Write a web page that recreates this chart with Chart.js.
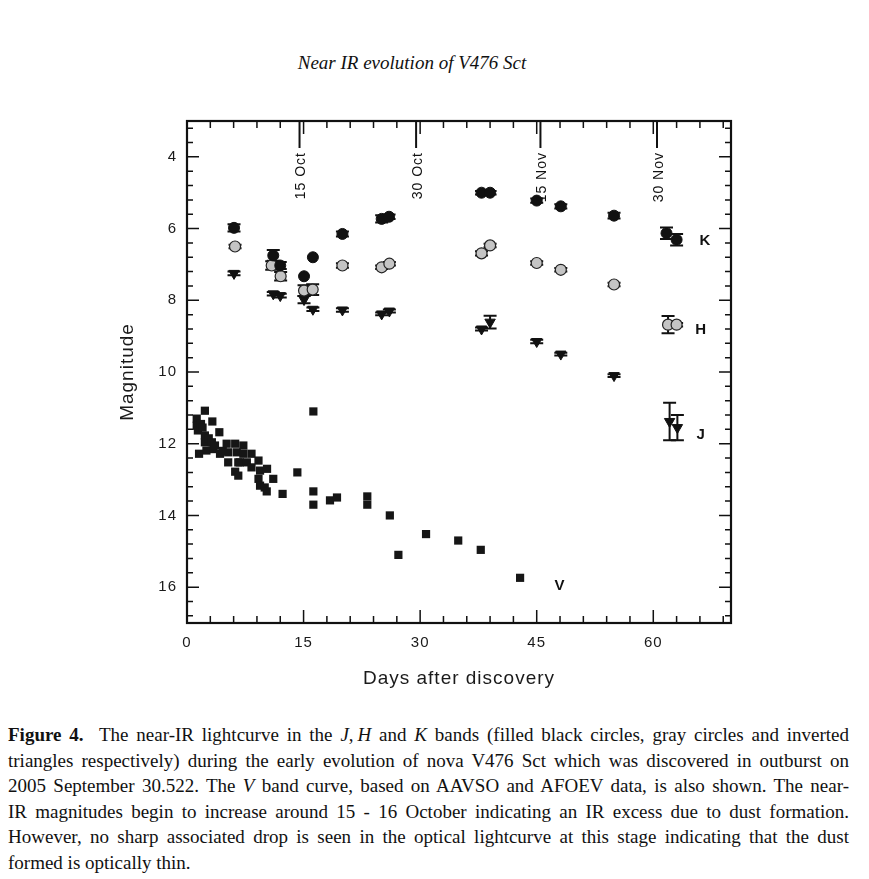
<!DOCTYPE html>
<html>
<head>
<meta charset="utf-8">
<script src="https://cdn.jsdelivr.net/npm/chart.js@4.4.1/dist/chart.umd.min.js"></script>
<style>
html,body{margin:0;padding:0;background:#fff;}
#wrap{position:relative;width:869px;height:879px;overflow:hidden;}
#chart{position:absolute;left:0;top:0;}
#title{position:absolute;top:52px;left:0;width:824px;text-align:center;font:italic 19px "Liberation Serif";color:#111;}
#caption{position:absolute;left:8px;top:722px;width:841px;font:19px/25.6px "Liberation Serif";color:#111;}
#caption div{text-align:justify;text-align-last:justify;}
#caption div.last{text-align-last:left;}
</style>
</head>
<body>
<div id="wrap">
<div id="title">Near IR evolution of V476 Sct</div>
<canvas id="chart" width="869" height="700"></canvas>
<div id="caption">
<div><b>Figure 4.</b>&nbsp; The near-IR lightcurve in the <i>J</i>,&#8201;<i>H</i> and <i>K</i> bands (filled black circles, gray circles and inverted</div>
<div>triangles respectively) during the early evolution of nova V476 Sct which was discovered in outburst on</div>
<div>2005 September 30.522. The <i>V</i> band curve, based on AAVSO and AFOEV data, is also shown. The near-</div>
<div>IR magnitudes begin to increase around 15 - 16 October indicating an IR excess due to dust formation.</div>
<div>However, no sharp associated drop is seen in the optical lightcurve at this stage indicating that the dust</div>
<div class="last">formed is optically thin.</div>
</div>
</div>
<script>
// ---- data ----
const kDays = [6.05, 11.1, 12.0, 15.06, 16.2, 20.0, 25.05, 26.0, 37.9, 39.0, 45.0, 48.1, 54.95, 61.7, 63.0];
const kMag  = [5.98, 6.75, 7.03, 7.33, 6.8, 6.15, 5.73, 5.67, 5.0, 5.0, 5.22, 5.38, 5.64, 6.13, 6.31];
const kErr  = [0.1, 0.15, 0.1, 0, 0, 0.07, 0.1, 0.06, 0.05, 0.05, 0.06, 0.06, 0.08, 0.16, 0.16];

const hDays = [6.18, 10.9, 12.05, 15.06, 16.17, 20.0, 25.05, 26.04, 37.9, 39.0, 45.0, 48.1, 54.95, 61.9, 63.0];
const hMag  = [6.5, 7.03, 7.33, 7.73, 7.7, 7.03, 7.08, 6.98, 6.69, 6.47, 6.96, 7.15, 7.56, 8.68, 8.68];
const hErr  = [0.05, 0.12, 0.12, 0.15, 0.15, 0.06, 0.05, 0.05, 0.06, 0.05, 0.05, 0.05, 0.05, 0.24, 0.05];

const jDays = [6.05, 11.1, 12.0, 15.06, 16.2, 20.0, 25.05, 26.04, 37.9, 39.0, 45.0, 48.1, 54.95, 62.1, 63.1];
const jMag  = [7.25, 7.82, 7.87, 7.98, 8.25, 8.27, 8.38, 8.3, 8.8, 8.61, 9.15, 9.5, 10.1, 11.38, 11.55];
const jErr  = [0.05, 0.05, 0.05, 0.1, 0.05, 0.05, 0.04, 0.04, 0.04, 0.18, 0.05, 0.04, 0.04, 0.52, 0.35];

const vDays = [1.25, 1.25, 1.4, 1.55, 1.8, 2.0, 2.3, 2.3, 2.3, 2.5, 2.8, 3.2, 3.26, 3.4, 3.6, 4.16, 4.25, 4.6,
               5.1, 5.3, 5.3, 6.2, 6.4, 6.6, 6.2, 6.6, 6.8, 7.25, 7.25, 7.7, 8.3, 8.3, 9.2, 9.4, 10.3,
               9.2, 9.4, 10.0, 10.26, 11.1, 12.3, 14.2, 16.26, 16.26, 16.26, 18.4, 19.3, 23.2, 23.2,
               26.1, 27.2, 30.76, 34.9, 37.8, 42.86];
const vMag  = [11.3, 11.5, 11.63, 12.28, 11.45, 11.55, 11.08, 11.77, 11.96, 12.19, 11.85, 11.96, 11.38, 12.15, 12.05, 11.68, 12.28, 12.2,
               12.0, 12.24, 12.52, 12.0, 12.24, 12.52, 12.78, 12.89, 12.52, 12.05, 12.28, 12.52, 12.28, 12.66, 12.47, 12.75, 12.7,
               12.98, 13.17, 13.22, 13.33, 12.98, 13.4, 12.8, 11.1, 13.33, 13.7, 13.58, 13.5, 13.47, 13.7,
               14.0, 15.1, 14.52, 14.7, 14.96, 15.74];

const xTickVals = [0, 15, 30, 45, 60];
const yTickVals = [4, 6, 8, 10, 12, 14, 16];
const dateLabels = ['15 Oct', '30 Oct', '15 Nov', '30 Nov'];
const dateDays = [14.48, 29.48, 45.48, 60.48];
const bandNames = ['K', 'H', 'J', 'V'];
const bandDays = [66.7, 66.15, 66.15, 48.0];
const bandMags = [6.34, 8.83, 11.75, 15.97];

const toPts = (xs, ys) => xs.map((x, i) => ({x: x, y: ys[i]}));

// ---- plugin: frame, inward ticks, date markers, error bars, band labels ----
const decor = {
  id: 'decor',
  beforeDraw(chart) { chart.ctx.letterSpacing = '1px'; },
  beforeDatasetsDraw(chart) {
    const ctx = chart.ctx, xs = chart.scales.x, ys = chart.scales.y;
    ctx.save();
    ctx.strokeStyle = '#111';
    ctx.lineWidth = 2;
    chart.data.datasets.forEach(ds => {
      if (!ds.errs) return;
      ds.data.forEach((p, i) => {
        const e = ds.errs[i];
        if (!e) return;
        const px = xs.getPixelForValue(p.x);
        const y1 = ys.getPixelForValue(p.y - e), y2 = ys.getPixelForValue(p.y + e);
        ctx.beginPath();
        ctx.moveTo(px, y1); ctx.lineTo(px, y2);
        ctx.moveTo(px - 6.5, y1); ctx.lineTo(px + 6.5, y1);
        ctx.moveTo(px - 6.5, y2); ctx.lineTo(px + 6.5, y2);
        ctx.stroke();
      });
    });
    ctx.restore();
  },
  afterDraw(chart) {
    const ctx = chart.ctx, xs = chart.scales.x, ys = chart.scales.y, a = chart.chartArea;
    ctx.save();
    ctx.strokeStyle = '#111';
    ctx.fillStyle = '#111';
    // frame
    ctx.lineWidth = 2.2;
    ctx.strokeRect(a.left, a.top, a.right - a.left, a.bottom - a.top);
    // x ticks (bottom & top)
    ctx.lineWidth = 1.5;
    ctx.beginPath();
    for (let v = 3; v < 70; v += 3) {
      const major = v % 15 === 0;
      const len = major ? 13 : 7;
      const px = xs.getPixelForValue(v);
      ctx.moveTo(px, a.bottom); ctx.lineTo(px, a.bottom - len);
      ctx.moveTo(px, a.top); ctx.lineTo(px, a.top + len);
    }
    ctx.stroke();
    // y ticks (left & right)
    ctx.beginPath();
    for (let n = -2; n <= 32; n++) {
      const v = 4 + n * 0.4;
      const major = n % 5 === 0;
      const len = major ? 12 : 6;
      const py = ys.getPixelForValue(v);
      ctx.lineWidth = major ? 2.2 : 1.5;
      ctx.moveTo(a.left, py); ctx.lineTo(a.left + len, py);
      ctx.moveTo(a.right, py); ctx.lineTo(a.right - len, py);
    }
    ctx.stroke();
    // date markers
    ctx.lineWidth = 2;
    ctx.font = '14px "Liberation Sans", Arial, sans-serif';
    dateDays.forEach((d, i) => {
      const px = xs.getPixelForValue(d);
      ctx.beginPath();
      ctx.moveTo(px, a.top); ctx.lineTo(px, a.top + 27);
      ctx.stroke();
      ctx.save();
      ctx.translate(px + 2, a.top + 31);
      ctx.rotate(-Math.PI / 2);
      ctx.textAlign = 'right';
      ctx.textBaseline = 'middle';
      ctx.fillText(dateLabels[i], 0, 0);
      ctx.restore();
    });
    // band labels
    ctx.font = 'bold 15px "Liberation Sans", Arial, sans-serif';
    ctx.textAlign = 'center';
    ctx.textBaseline = 'middle';
    bandNames.forEach((b, i) => {
      ctx.fillText(b, xs.getPixelForValue(bandDays[i]), ys.getPixelForValue(bandMags[i]));
    });
    ctx.restore();
  }
};

new Chart(document.getElementById('chart'), {
  type: 'scatter',
  data: {
    datasets: [
      {label: 'V', data: toPts(vDays, vMag), pointStyle: 'rect', pointRadius: 5.8, backgroundColor: '#161616', borderColor: '#161616', borderWidth: 0},
      {label: 'K', data: toPts(kDays, kMag), errs: kErr, pointStyle: 'circle', pointRadius: 5.5, backgroundColor: '#111', borderColor: '#111', borderWidth: 1},
      {label: 'H', data: toPts(hDays, hMag), errs: hErr, pointStyle: 'circle', pointRadius: 5.5, backgroundColor: '#c4c4c4', borderColor: '#222', borderWidth: 1.2},
      {label: 'J', data: toPts(jDays, jMag), errs: jErr, pointStyle: 'triangle', rotation: 180, pointRadius: 6, backgroundColor: '#111', borderColor: '#111', borderWidth: 1}
    ]
  },
  options: {
    responsive: false,
    devicePixelRatio: 1,
    animation: false,
    layout: {padding: {top: 121, right: 138, left: 0, bottom: 0}},
    plugins: {legend: {display: false}, tooltip: {enabled: false}, title: {display: false}},
    scales: {
      x: {
        type: 'linear', min: 0, max: 70,
        afterBuildTicks: s => { s.ticks = xTickVals.map(v => ({value: v})); },
        afterFit: s => { s.height = 77; },
        grid: {display: false, drawTicks: false},
        border: {display: false},
        ticks: {padding: 11, color: '#1a1a1a', font: {family: '"Liberation Sans", Arial, sans-serif', size: 15}, maxRotation: 0},
        title: {display: true, text: 'Days after discovery', color: '#1a1a1a', padding: {top: 0, bottom: 9.6}, font: {family: '"Liberation Sans", Arial, sans-serif', size: 19}}
      },
      y: {
        type: 'linear', min: 3, max: 17, reverse: true,
        afterBuildTicks: s => { s.ticks = yTickVals.map(v => ({value: v})); },
        afterFit: s => { s.width = 187; },
        grid: {display: false, drawTicks: false},
        border: {display: false},
        ticks: {padding: 10, color: '#1a1a1a', font: {family: '"Liberation Sans", Arial, sans-serif', size: 15}},
        title: {display: true, text: 'Magnitude', color: '#1a1a1a', padding: {top: 116.6, bottom: 0}, font: {family: '"Liberation Sans", Arial, sans-serif', size: 19}}
      }
    }
  },
  plugins: [decor]
});
</script>
</body>
</html>
